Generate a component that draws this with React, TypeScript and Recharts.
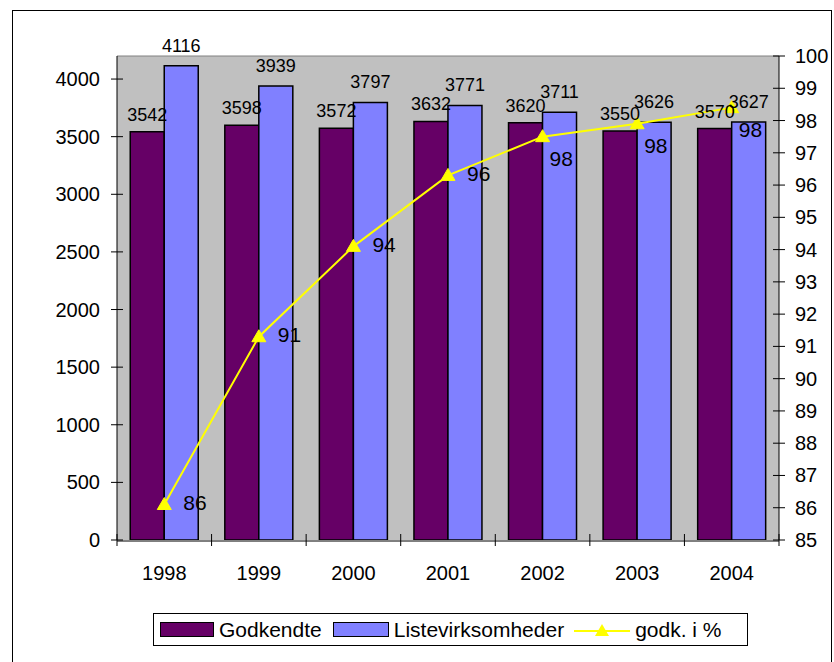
import React from 'react';
import { ComposedChart, Bar, Line, XAxis, YAxis, LabelList, Legend, CartesianGrid, ReferenceLine } from 'recharts';

const years = ['1998', '1999', '2000', '2001', '2002', '2003', '2004'];
const godkendte = [3542, 3598, 3572, 3632, 3620, 3550, 3570];
const listevirksomheder = [4116, 3939, 3797, 3771, 3711, 3626, 3627];
const godkPct = [86.1, 91.3, 94.1, 96.3, 97.5, 97.9, 98.4];
const leftTicks = [0, 500, 1000, 1500, 2000, 2500, 3000, 3500, 4000];
const rightTicks = [85, 86, 87, 88, 89, 90, 91, 92, 93, 94, 95, 96, 97, 98, 99, 100];
const edgeTicks = [0, 1, 2, 3, 4, 5, 6, 7];

const data = years.map((y, i) => ({
  year: y,
  godkendte: godkendte[i],
  liste: listevirksomheder[i],
  pct: godkPct[i],
  edge: i + 0.5,
}));

const FONT = '"Liberation Sans", Arial, sans-serif';
const PURPLE = '#660066';
const BLUE = '#8080FF';
const YELLOW = '#FFFF00';

const LeftTick = (p: any) => (
  <g>
    <line x1={p.x - 6} x2={p.x + 6} y1={p.y} y2={p.y} stroke="#000" strokeWidth={1} />
    <text x={p.x - 17} y={p.y} textAnchor="end" dominantBaseline="central" fontSize={20} fontFamily={FONT} fill="#000">
      {p.payload.value}
    </text>
  </g>
);

const RightTick = (p: any) => (
  <g>
    <line x1={p.x - 6} x2={p.x + 6} y1={p.y} y2={p.y} stroke="#000" strokeWidth={1} />
    <text x={p.x + 16} y={p.y} textAnchor="start" dominantBaseline="central" fontSize={20} fontFamily={FONT} fill="#000">
      {p.payload.value}
    </text>
  </g>
);

const CatTick = (p: any) => (
  <text x={p.x} y={p.y + 32} textAnchor="middle" dominantBaseline="central" fontSize={20} fontFamily={FONT} fill="#000">
    {p.payload.value}
  </text>
);

const EdgeTick = (p: any) => (
  <line x1={p.x} x2={p.x} y1={p.y - 6} y2={p.y + 6} stroke="#000" strokeWidth={1} />
);

const TriangleDot = (p: any) => {
  const { cx, cy, index } = p;
  if (cx == null || cy == null) return <g key={index} />;
  return (
    <polygon
      key={index}
      points={`${cx},${cy - 7} ${cx - 7},${cy + 5} ${cx + 7},${cy + 5}`}
      fill={YELLOW}
      stroke={YELLOW}
    />
  );
};

// Line value labels: right of the point; the last ones sit right-below (inside the bars)
const PctLabel = (p: any) => {
  const { x, y, value, index } = p;
  if (x == null || y == null) return null;
  const below = index >= 4;
  return (
    <text
      x={below ? x + 7 : x + 19}
      y={below ? y + 22 : y - 2}
      textAnchor="start"
      dominantBaseline="central"
      fontSize={21}
      fontFamily={FONT}
      fill="#000"
    >
      {Math.round(Number(value))}
    </text>
  );
};

const LegendContent = () => (
  <div
    style={{
      width: 595,
      height: 33,
      border: '1.5px solid #000',
      boxSizing: 'border-box',
      display: 'flex',
      alignItems: 'center',
      fontFamily: FONT,
      fontSize: 21,
      background: '#fff',
      color: '#000',
      whiteSpace: 'nowrap',
    }}
  >
    <span style={{ display: 'inline-block', width: 54, height: 15, background: PURPLE, border: '1.5px solid #000', boxSizing: 'border-box', marginLeft: 6 }} />
    <span style={{ marginLeft: 5 }}>Godkendte</span>
    <span style={{ display: 'inline-block', width: 56, height: 15, background: BLUE, border: '1.5px solid #000', boxSizing: 'border-box', marginLeft: 11 }} />
    <span style={{ marginLeft: 5 }}>Listevirksomheder</span>
    <svg width={56} height={18} style={{ marginLeft: 10 }}>
      <line x1={0} x2={56} y1={10} y2={10} stroke={YELLOW} strokeWidth={2} />
      <polygon points="28,3 21,15 35,15" fill={YELLOW} />
    </svg>
    <span style={{ marginLeft: 5 }}>godk. i %</span>
  </div>
);

export default function App() {
  return (
    <div style={{ position: 'absolute', left: 0, top: 0, width: 834, height: 662, overflow: 'hidden', background: '#fff' }}>
      <div style={{ position: 'absolute', left: 12, top: 10, width: 820, height: 720, border: '1.5px solid #000', boxSizing: 'border-box' }} />
      <div style={{ position: 'absolute', left: 0, top: 0 }}>
        <ComposedChart
          width={834}
          height={662}
          data={data}
          margin={{ top: 56, right: 0, bottom: 0, left: 0 }}
          barCategoryGap="14%"
          barGap={0}
        >
          <CartesianGrid horizontal={false} vertical={false} fill="#C0C0C0" fillOpacity={1} xAxisId="b_cat" yAxisId="left" />
          <XAxis
            xAxisId="b_cat"
            dataKey="year"
            height={121}
            axisLine={{ stroke: '#000', strokeWidth: 1 }}
            tickLine={false}
            tickSize={0}
            tickMargin={0}
            tick={<CatTick />}
            interval={0}
          />
          <XAxis
            xAxisId="a_edge"
            dataKey="edge"
            type="number"
            domain={[0, 7]}
            ticks={edgeTicks}
            allowDataOverflow
            height={1}
            axisLine={false}
            tickLine={false}
            tickSize={0}
            tickMargin={0}
            tick={<EdgeTick />}
            interval={0}
          />
          <YAxis
            yAxisId="left"
            orientation="left"
            width={117}
            domain={[0, 4200]}
            ticks={leftTicks}
            allowDataOverflow
            axisLine={{ stroke: '#000', strokeWidth: 1 }}
            tickLine={false}
            tickSize={0}
            tickMargin={0}
            tick={<LeftTick />}
            interval={0}
          />
          <YAxis
            yAxisId="right"
            orientation="right"
            width={55}
            domain={[85, 100]}
            ticks={rightTicks}
            allowDataOverflow
            axisLine={{ stroke: '#000', strokeWidth: 1 }}
            tickLine={false}
            tickSize={0}
            tickMargin={0}
            tick={<RightTick />}
            interval={0}
          />
          <ReferenceLine yAxisId="right" xAxisId="b_cat" y={100} stroke="#808080" strokeWidth={1} />
          <Bar xAxisId="b_cat" yAxisId="left" dataKey="godkendte" fill={PURPLE} stroke="#000" strokeWidth={1.5} isAnimationActive={false}>
            <LabelList dataKey="godkendte" position="top" offset={11} fontSize={18} fontFamily={FONT} fill="#000" />
          </Bar>
          <Bar xAxisId="b_cat" yAxisId="left" dataKey="liste" fill={BLUE} stroke="#000" strokeWidth={1.5} isAnimationActive={false}>
            <LabelList dataKey="liste" position="top" offset={14} fontSize={18} fontFamily={FONT} fill="#000" />
          </Bar>
          <Line
            xAxisId="b_cat"
            yAxisId="right"
            dataKey="pct"
            stroke={YELLOW}
            strokeWidth={2}
            dot={TriangleDot}
            activeDot={false}
            isAnimationActive={false}
          >
            <LabelList dataKey="pct" content={<PctLabel />} />
          </Line>
          <Legend
            layout="vertical"
            align="center"
            verticalAlign="middle"
            content={<LegendContent />}
            wrapperStyle={{ left: 153, top: 613, width: 595, height: 33 }}
          />
        </ComposedChart>
      </div>
    </div>
  );
}
